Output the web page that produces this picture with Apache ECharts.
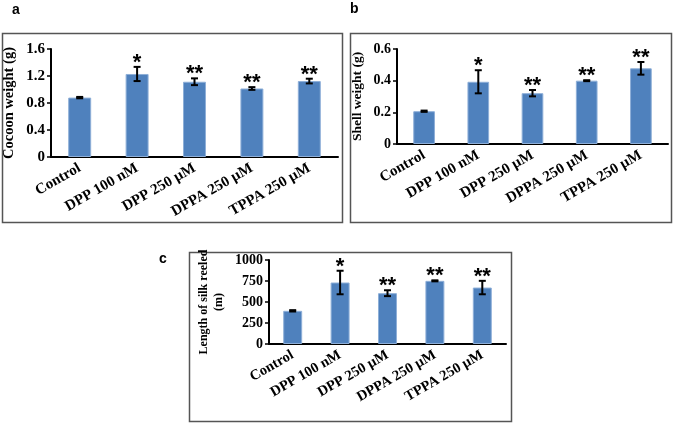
<!DOCTYPE html>
<html><head><meta charset="utf-8">
<script src="https://cdn.jsdelivr.net/npm/echarts@6/dist/echarts.min.js"></script>
<style>html,body{margin:0;padding:0;background:#fff}#c{width:675px;height:424px}</style>
</head><body><div id="c"></div>
<script>
const categories = ['Control','DPP 100 nM','DPP 250 µM','DPPA 250 µM','TPPA 250 µM'];
const cocoonWeight = [0.88, 1.23, 1.115, 1.015, 1.125];
const cocoonErr = [0.01, 0.105, 0.05, 0.02, 0.035];
const shellWeight = [0.207, 0.393, 0.321, 0.40, 0.478];
const shellErr = [0.004, 0.073, 0.02, 0.003, 0.04];
const silkLength = [395, 732, 605, 752, 672];
const silkErr = [8, 140, 35, 6, 80];
const stars = ['', '*', '**', '**', '**'];
const cocoonTicks = {min:0, max:1.6, interval:0.4};
const shellTicks = {min:0, max:0.6, interval:0.2};
const silkTicks = {min:0, max:1000, interval:250};

const SERIF = '"Liberation Serif","Times New Roman",serif';
const chart = echarts.init(document.getElementById('c'));

function xAxis(g, fs){
  return {type:'category', gridIndex:g, data:categories,
    axisLine:{lineStyle:{color:'#000', width:2}}, axisTick:{show:false},
    axisLabel:{rotate:30, color:'#000', fontFamily:SERIF, fontWeight:'bold', fontSize:fs, margin:10, interval:0}};
}
function yAxis(g, t, name, gap, fs, lh, tfs){
  return {type:'value', gridIndex:g, min:t.min, max:t.max, interval:t.interval,
    name:name, nameLocation:'middle', nameGap:gap, nameRotate:90,
    nameTextStyle:{color:'#000', fontFamily:SERIF, fontWeight:'bold', fontSize:fs, lineHeight:lh},
    splitLine:{show:false},
    axisLine:{show:true, lineStyle:{color:'#000', width:2}},
    axisTick:{show:true, length:4, lineStyle:{color:'#000', width:1.5}},
    axisLabel:{color:'#000', fontFamily:SERIF, fontWeight:'bold', fontSize:tfs, margin:6,
      formatter:function(v){ return String(v); }}};
}
function bars(g, vals){
  return {type:'bar', xAxisIndex:g, yAxisIndex:g, data:vals, barCategoryGap:'60%',
    itemStyle:{color:'#4F81BD', borderColor:'#8EAFD8', borderWidth:1}, silent:true};
}
function errs(g, vals, err){
  return {type:'custom', xAxisIndex:g, yAxisIndex:g, silent:true, z:5,
    data: vals.map((v,i)=>[i, v, err[i]]),
    encode:{x:0, y:1},
    renderItem:function(params, api){
      const i = api.value(0), v = api.value(1), e = api.value(2);
      const hi = api.coord([i, v+e]), lo = api.coord([i, v-e]);
      const w = 3.5;
      const st = {stroke:'#000', lineWidth:2};
      const children = [
        {type:'line', shape:{x1:hi[0], y1:hi[1], x2:lo[0], y2:lo[1]}, style:st},
        {type:'line', shape:{x1:hi[0]-w, y1:hi[1], x2:hi[0]+w, y2:hi[1]}, style:st},
        {type:'line', shape:{x1:lo[0]-w, y1:lo[1], x2:lo[0]+w, y2:lo[1]}, style:st}
      ];
      if (stars[i]) children.push({type:'text', style:{text:stars[i], x:hi[0], y:hi[1]+7,
        textAlign:'center', textVerticalAlign:'bottom', fill:'#000',
        font:'bold 22px "Liberation Sans",Arial,sans-serif'}});
      return {type:'group', children:children};
    }};
}

const option = {
  animation:false,
  grid:[
    {left:48, top:49, width:290, height:108},
    {left:397, top:49, width:271, height:95},
    {left:269, top:260, width:237, height:84}
  ],
  xAxis:[xAxis(0, 15), xAxis(1, 15), xAxis(2, 14.5)],
  yAxis:[
    yAxis(0, cocoonTicks, 'Cocoon weight (g)', 34, 14.5, 16, 15),
    yAxis(1, shellTicks, 'Shell weight (g)', 31, 13.5, 16, 14),
    yAxis(2, silkTicks, 'Length of silk reeled\n(m)', 43, 12, 15, 14)
  ],
  series:[
    bars(0, cocoonWeight), errs(0, cocoonWeight, cocoonErr),
    bars(1, shellWeight), errs(1, shellWeight, shellErr),
    bars(2, silkLength), errs(2, silkLength, silkErr)
  ],
  graphic:[
    {type:'rect', shape:{x:2.5, y:33.5, width:340, height:189}, style:{fill:'none', stroke:'#555', lineWidth:1.5}, silent:true},
    {type:'rect', shape:{x:350.5, y:33.5, width:321, height:189}, style:{fill:'none', stroke:'#555', lineWidth:1.5}, silent:true},
    {type:'rect', shape:{x:189.5, y:252.5, width:322, height:169}, style:{fill:'none', stroke:'#555', lineWidth:1.5}, silent:true},
    {type:'text', left:12, top:3, style:{text:'a', font:'bold 14px "Liberation Sans",Arial,sans-serif', fill:'#000'}},
    {type:'text', left:350, top:2, style:{text:'b', font:'bold 14px "Liberation Sans",Arial,sans-serif', fill:'#000'}},
    {type:'text', left:159, top:252, style:{text:'c', font:'bold 14px "Liberation Sans",Arial,sans-serif', fill:'#000'}}
  ]
};
chart.setOption(option);
</script></body></html>
